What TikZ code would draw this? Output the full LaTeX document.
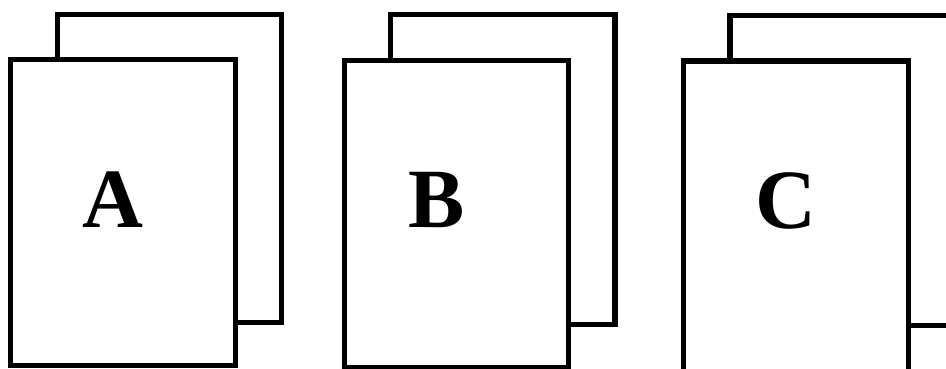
\documentclass[tikz,border=0pt]{standalone}
\usepackage{fontspec}
\setmainfont{Liberation Serif}
\begin{document}
\begin{tikzpicture}[x=0.03cm, y=-0.03cm,
  pagebox/.style={draw=black, fill=white, line width=0.165cm},
  letter/.style={font=\fontsize{72}{72}\selectfont\bfseries, inner sep=0pt}]
  \useasboundingbox (0,0) rectangle (946,369);
  \clip (0,0) rectangle (946,369);
  % back sheet, then front sheet
  \foreach \bx/\by/\bxx/\byy/\fx/\fy/\fxx/\fyy in {
      57.5/14.5/281.5/322.5/10.5/59.5/235.5/365.5,
      390.5/14.5/615/324.5/344.5/60.5/568.5/368,
      730/15.5/954/325.5/683.5/61/908.5/380}{
    \draw[pagebox] (\bx,\by) rectangle (\bxx,\byy);
    \draw[pagebox] (\fx,\fy) rectangle (\fxx,\fyy);
  }
  % letters
  \node[letter] (labA) at (113,200) {A};
  \node[letter] (labB) at (437,200) {B};
  \node[letter] (labC) at (786,201) {C};
\end{tikzpicture}
\end{document}
